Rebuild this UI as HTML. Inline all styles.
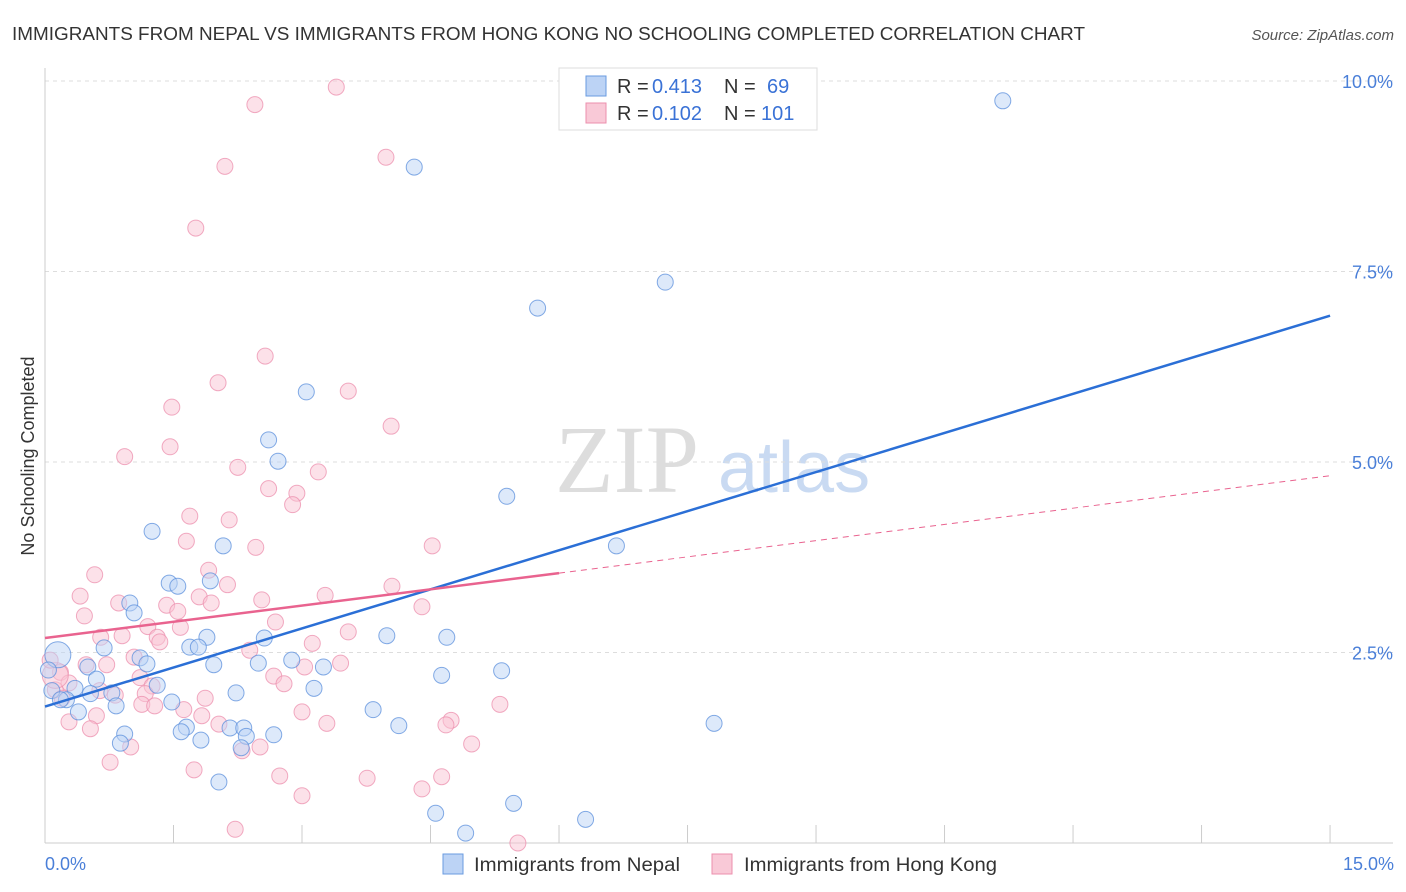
<!DOCTYPE html>
<html><head><meta charset="utf-8"><style>
body{margin:0;background:#fff;font-family:"Liberation Sans",sans-serif}
svg{display:block}
</style></head><body>
<svg id="chart" width="1406" height="892">
<text x="12" y="40" font-size="18" fill="#333" textLength="1073" lengthAdjust="spacingAndGlyphs">IMMIGRANTS FROM NEPAL VS IMMIGRANTS FROM HONG KONG NO SCHOOLING COMPLETED CORRELATION CHART</text>
<text x="1394" y="40" font-size="15" fill="#555" font-style="italic" text-anchor="end">Source: ZipAtlas.com</text>
<text x="555" y="492" font-size="96" fill="#ddd" font-family="Liberation Serif,serif">ZIP</text>
<text x="718" y="492" font-size="72" fill="#c9daf2">atlas</text>
<g id="grid"></g><g id="axes"></g><g id="pts"></g><g id="lines"></g>
<text transform="translate(34,456) rotate(-90)" font-size="18" fill="#333" text-anchor="middle">No Schooling Completed</text>
<text x="45" y="870" font-size="18" fill="#4a7fd8">0.0%</text>
<text x="1394" y="870" font-size="18" fill="#4a7fd8" text-anchor="end">15.0%</text>
<g>
<rect x="559" y="68" width="258" height="62" fill="#fff" stroke="#ddd"/>
<rect x="586" y="76" width="20" height="20" fill="#bcd3f5" stroke="#6a9be0"/>
<rect x="586" y="103" width="20" height="20" fill="#f9c9d7" stroke="#ec8fae"/>
<text x="617" y="93" font-size="20" fill="#333">R =</text>
<text x="652" y="93" font-size="20" fill="#3a72d6">0.413</text>
<text x="724" y="93" font-size="20" fill="#333">N =</text>
<text x="767" y="93" font-size="20" fill="#3a72d6">69</text>
<text x="617" y="120" font-size="20" fill="#333">R =</text>
<text x="652" y="120" font-size="20" fill="#3a72d6">0.102</text>
<text x="724" y="120" font-size="20" fill="#333">N =</text>
<text x="761" y="120" font-size="20" fill="#3a72d6">101</text>
</g>
<g>
<rect x="443" y="854" width="20" height="20" fill="#bcd3f5" stroke="#6a9be0"/>
<text x="474" y="871" font-size="19" fill="#333" textLength="206" lengthAdjust="spacingAndGlyphs">Immigrants from Nepal</text>
<rect x="712" y="854" width="20" height="20" fill="#f9c9d7" stroke="#ec8fae"/>
<text x="744" y="871" font-size="19" fill="#333" textLength="253" lengthAdjust="spacingAndGlyphs">Immigrants from Hong Kong</text>
</g>
</svg>
<script>
const yTicks=[2.5,5,7.5,10];
const yTickLabels=["2.5%","5.0%","7.5%","10.0%"];
const xTicks=[0,1.5,3,4.5,6,7.5,9,10.5,12,13.5,15];
const nepalX=[11.18,4.31,7.24,5.75,3.05,2.61,2.72,5.39,6.67,1.25,2.08,1.93,1.45,1.55,0.99,1.04,1.89,2.56,3.99,4.69,1.69,1.79,0.69,1.11,1.19,1.97,2.49,2.88,3.25,5.33,4.63,0.15,0.50,0.60,0.35,0.53,0.78,1.31,2.23,3.14,1.48,0.83,0.25,0.39,3.83,4.13,7.81,1.65,1.59,2.16,2.32,2.35,2.67,0.93,0.88,1.82,2.29,2.03,5.47,4.56,6.31,4.91,0.08,0.04,0.18];
const nepalY=[9.74,8.87,7.36,7.02,5.92,5.29,5.01,4.55,3.90,4.09,3.90,3.44,3.41,3.37,3.15,3.02,2.70,2.69,2.72,2.70,2.57,2.57,2.56,2.43,2.35,2.34,2.36,2.40,2.31,2.26,2.20,2.47,2.31,2.15,2.03,1.96,1.97,2.07,1.97,2.03,1.85,1.80,1.88,1.72,1.75,1.54,1.57,1.52,1.46,1.51,1.51,1.40,1.42,1.43,1.31,1.35,1.25,0.80,0.52,0.39,0.31,0.13,2.0,2.27,1.88];
const hkX=[3.40,2.45,3.98,2.10,1.76,2.57,2.02,3.54,1.48,4.04,1.46,0.93,2.25,3.19,2.61,2.94,2.89,1.69,2.15,1.65,2.46,4.52,0.58,1.91,4.05,2.13,0.41,1.80,3.27,2.53,0.86,1.42,1.94,4.40,1.55,0.46,2.69,1.20,1.58,3.54,0.65,0.90,1.31,1.34,3.12,2.39,1.04,3.45,0.72,3.03,0.48,2.67,0.18,1.11,2.79,1.25,0.28,0.12,0.12,1.87,1.17,0.82,5.31,1.13,1.28,1.62,3.00,1.83,0.60,4.74,0.28,2.03,3.29,4.68,0.53,4.98,1.00,2.51,2.30,0.76,1.74,2.74,3.76,4.63,4.40,3.00,2.22,5.52,0.06,0.20,0.64];
const hkY=[9.92,9.69,9.0,8.88,8.07,6.39,6.04,5.93,5.72,5.47,5.20,5.07,4.93,4.87,4.65,4.59,4.44,4.29,4.24,3.96,3.88,3.90,3.52,3.58,3.37,3.39,3.24,3.23,3.25,3.19,3.15,3.12,3.15,3.10,3.04,2.98,2.90,2.84,2.83,2.77,2.70,2.72,2.70,2.64,2.62,2.53,2.44,2.36,2.34,2.31,2.34,2.19,2.24,2.17,2.09,2.06,2.10,2.01,2.2,1.90,1.96,1.94,1.82,1.82,1.80,1.75,1.72,1.67,1.67,1.61,1.59,1.56,1.57,1.55,1.50,1.30,1.26,1.26,1.21,1.06,0.96,0.88,0.85,0.87,0.71,0.62,0.18,0.0,2.4,1.90,2.0];
const nepalBig=[31];const hkBig=[58];
const nepalFit=[1.79,6.92];
const hkFit=[2.69,4.82];const hkSolidEnd=6;
const X=v=>45+v*85.67, Y=v=>843-v*76.2;
const NS="http://www.w3.org/2000/svg";
function mk(t,a,p){const e=document.createElementNS(NS,t);for(const k in a)e.setAttribute(k,a[k]);p.appendChild(e);return e;}
const grid=document.getElementById('grid'),axes=document.getElementById('axes'),pts=document.getElementById('pts'),lines=document.getElementById('lines');
yTicks.forEach((t,i)=>{const l=mk('line',{x1:45,x2:1393,y1:Y(t),y2:Y(t),stroke:'#ddd','stroke-dasharray':'4,4'},grid);


const tx=mk('text',{x:1393,y:Y(t)+7,'font-size':18,fill:'#4a7fd8','text-anchor':'end'},grid);tx.textContent=yTickLabels[i];

});
const ga=mk('line',{x1:45,x2:45,y1:68,y2:843,stroke:'#ccc'},axes);


const gb=mk('line',{x1:45,x2:1393,y1:843,y2:843,stroke:'#ccc'},axes);


xTicks.forEach(t=>{const l=mk('line',{x1:X(t),x2:X(t),y1:825,y2:843,stroke:'#ccc'},axes);

});
function dots(xs,ys,big,fill,stroke,name){xs.forEach((x,i)=>{const c=mk('circle',{cx:X(x),cy:Y(ys[i]),r:big.includes(i)?13:8,fill:fill,'fill-opacity':0.5,stroke:stroke,'stroke-opacity':0.75,'stroke-width':1},pts);

});}
dots(hkX,hkY,hkBig,'#f9c3d3','#ec8fae','hong-kong-point');
dots(nepalX,nepalY,nepalBig,'#bcd3f5','#5b8fdc','nepal-point');
const bl=mk('line',{x1:X(0),y1:Y(nepalFit[0]),x2:X(15),y2:Y(nepalFit[1]),stroke:'#2b6fd6','stroke-width':2.5},lines);


const hm=v=>hkFit[0]+(hkFit[1]-hkFit[0])*v/15;
const pl=mk('line',{x1:X(0),y1:Y(hm(0)),x2:X(hkSolidEnd),y2:Y(hm(hkSolidEnd)),stroke:'#e9638f','stroke-width':2.5},lines);


const pd=mk('line',{x1:X(hkSolidEnd),y1:Y(hm(hkSolidEnd)),x2:X(15),y2:Y(hm(15)),stroke:'#e9638f','stroke-width':1,'stroke-dasharray':'6,5'},lines);


</script>
</body></html>
